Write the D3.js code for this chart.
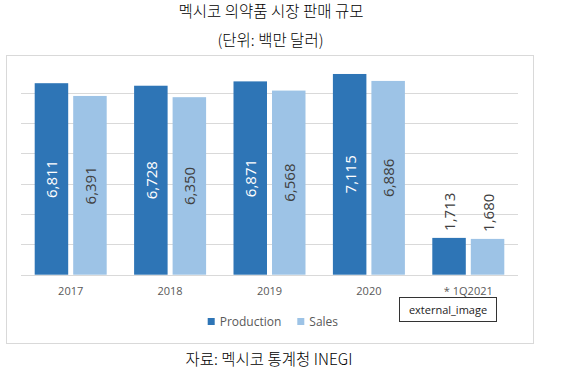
<!DOCTYPE html>
<html><head><meta charset="utf-8">
<script src="https://cdn.jsdelivr.net/npm/d3@7"></script>
<style>
html,body{margin:0;padding:0;background:#fff;}
svg{display:block;}
</style></head>
<body>
<svg id="chart" width="561" height="374"></svg>
<script>
const categories = ["2017", "2018", "2019", "2020", "* 1Q2021"];
const seriesNames = ["Production", "Sales"];
const production = [6811, 6728, 6871, 7115, 1713];
const sales = [6391, 6350, 6568, 6886, 1680];
const gridTicks = [500, 1500, 2500, 3500, 4500, 5500, 6500];
const colors = ["#2e75b6", "#9dc3e6"];
const titleText = "멕시코 의약품 시장 판매 규모";
const subtitleText = "(단위: 백만 달러)";
const sourceText = "자료: 멕시코 통계청 INEGI";

const svg = d3.select("#chart");
const kr = "'Noto Sans CJK KR', 'Noto Sans', sans-serif";
const lat = "'Open Sans', 'Liberation Sans', sans-serif";

// titles
svg.append("text").attr("x", 271).attr("y", 17).attr("text-anchor", "middle")
  .attr("font-family", kr).attr("font-size", 15.5).attr("font-weight", 300).attr("fill", "#000").text(titleText);
svg.append("text").attr("x", 270.5).attr("y", 45.5).attr("text-anchor", "middle")
  .attr("font-family", kr).attr("font-size", 15.5).attr("font-weight", 300).attr("fill", "#000").text(subtitleText);

// frame
svg.append("rect").attr("x", 6.5).attr("y", 55.5).attr("width", 527).attr("height", 288)
  .attr("fill", "#fff").attr("stroke", "#d9d9d9").attr("stroke-width", 1);

const x0 = d3.scaleBand().domain(categories).range([21, 518]).padding(0);
const y = d3.scaleLinear().domain([500, 7500]).range([274.7, 62.3]);

// grid
svg.append("g").selectAll("line").data(gridTicks).join("line")
  .attr("x1", 21).attr("x2", 518)
  .attr("y1", d => Math.round(y(d)) + 0.5).attr("y2", d => Math.round(y(d)) + 0.5)
  .attr("stroke", "#d9d9d9").attr("stroke-width", 1);

const barW = 33.5, gap = 5;
const rows = categories.map((c, i) => ({cat: c, vals: [production[i], sales[i]]}));

const g = svg.append("g");
rows.forEach(r => {
  const cx = x0(r.cat) + x0.bandwidth() / 2;
  r.vals.forEach((v, j) => {
    const bx = j === 0 ? cx - gap / 2 - barW : cx + gap / 2;
    const top = y(v), bottom = y(500);
    g.append("rect").attr("x", bx).attr("y", top).attr("width", barW)
      .attr("height", bottom - top).attr("fill", colors[j]);
    const inside = (bottom - top) > 80;
    const lx = bx + barW / 2;
    const label = d3.format(",")(v);
    const t = g.append("text")
      .attr("font-family", lat).attr("font-size", 15)
      .attr("fill", inside && j === 0 ? "#ffffff" : "#404040")
      .attr("dominant-baseline", "central")
      .text(label);
    if (inside) {
      const ly = (top + bottom) / 2;
      t.attr("text-anchor", "middle")
       .attr("transform", `translate(${lx},${ly}) rotate(-90)`);
    } else {
      t.attr("text-anchor", "start")
       .attr("transform", `translate(${lx},${top - 7}) rotate(-90)`);
    }
  });
});

// x axis labels
svg.append("g").selectAll("text").data(categories).join("text")
  .attr("x", d => x0(d) + x0.bandwidth() / 2)
  .attr("y", 295).attr("text-anchor", "middle")
  .attr("font-family", lat).attr("font-size", 11).attr("fill", "#595959")
  .text(d => d);

// legend
const legX = [207.7, 297.3];
seriesNames.forEach((s, i) => {
  svg.append("rect").attr("x", legX[i]).attr("y", 318).attr("width", 7).attr("height", 7)
    .attr("fill", colors[i]);
  svg.append("text").attr("x", legX[i] + 12).attr("y", 326)
    .attr("font-family", lat).attr("font-size", 12).attr("fill", "#595959").text(s);
});

// external_image tag
svg.append("rect").attr("x", 399.5).attr("y", 297.5).attr("width", 97).attr("height", 24)
  .attr("fill", "#fff").attr("stroke", "#333").attr("stroke-width", 1);
svg.append("text").attr("x", 448).attr("y", 314).attr("text-anchor", "middle")
  .attr("font-family", lat).attr("font-size", 11).attr("fill", "#222").text("external_image");

// source
svg.append("text").attr("x", 269).attr("y", 365).attr("text-anchor", "middle")
  .attr("font-family", kr).attr("font-size", 15.5).attr("font-weight", 300).attr("fill", "#000").text(sourceText);
</script>
</body></html>
